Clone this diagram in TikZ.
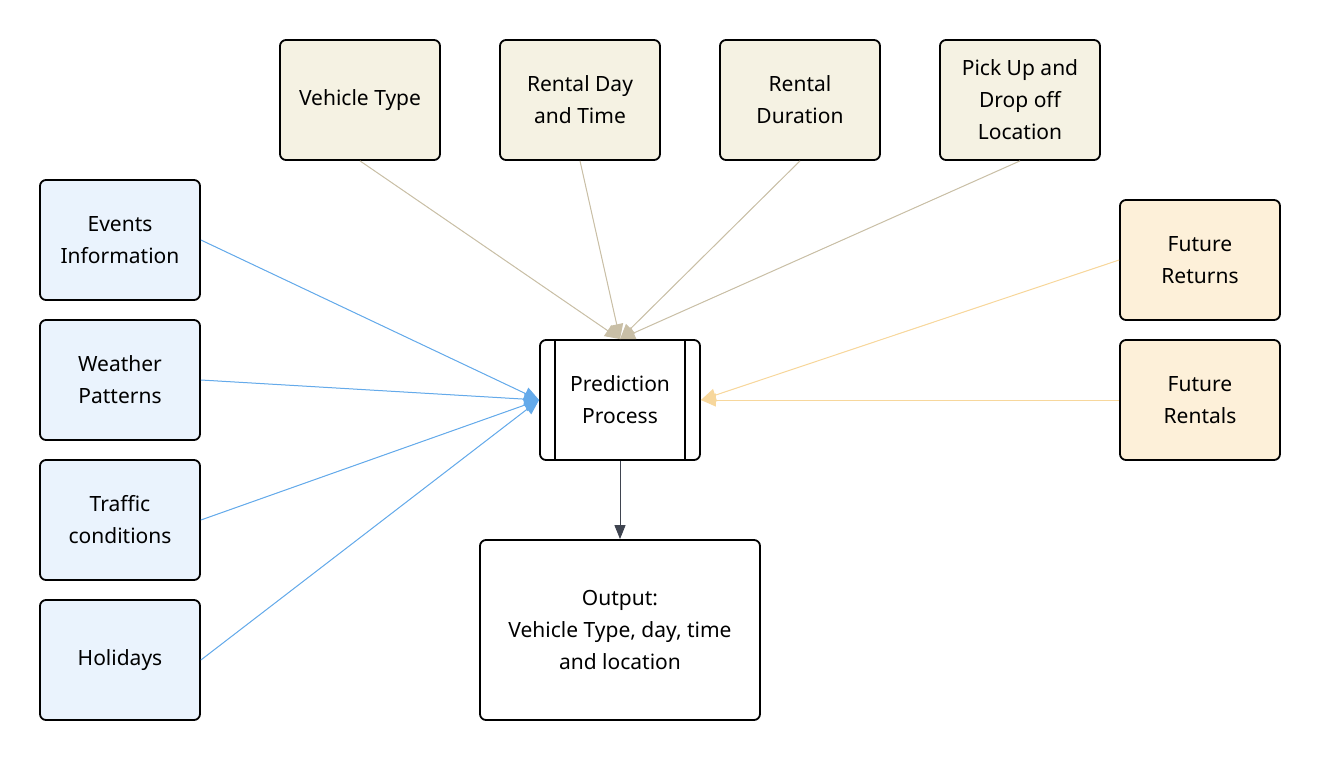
\documentclass[tikz,border=0pt]{standalone}
\usepackage{fontspec}
\setmainfont{Noto Sans}
\usetikzlibrary{arrows.meta}
\definecolor{topfill}{HTML}{F5F2E3}
\definecolor{leftfill}{HTML}{EAF3FD}
\definecolor{rightfill}{HTML}{FDF0D9}
\definecolor{tanline}{HTML}{C9BFA6}
\definecolor{blueline}{HTML}{64AAEA}
\definecolor{orangeline}{HTML}{F7D79C}
\definecolor{darkline}{HTML}{3F4450}
\tikzset{
  box/.style={draw=black, rounded corners=6pt, line width=1.8pt, minimum width=160pt, minimum height=120pt, align=center, inner sep=0pt, font=\fontsize{21}{32}\selectfont},
  topbox/.style={box, fill=topfill},
  leftbox/.style={box, fill=leftfill},
  rightbox/.style={box, fill=rightfill},
  conn/.style={line width=1pt, -{Triangle[length=15pt,width=13pt]}},
}
\begin{document}
\begin{tikzpicture}[x=1pt,y=-1pt]
\useasboundingbox (0,0) rectangle (1320,760);
\node[topbox] (vt) at (360,100) {\raisebox{-3pt}{Vehicle Type}};
\node[topbox] (rd) at (580,100) {Rental Day\\and Time};
\node[topbox] (rdur) at (800,100) {Rental\\Duration};
\node[topbox] (pu) at (1020,100) {Pick Up and\\Drop off\\Location};
\node[leftbox] (ev) at (120,240) {Events\\Information};
\node[leftbox] (wp) at (120,380) {Weather\\Patterns};
\node[leftbox] (tc) at (120,520) {Traffic\\conditions};
\node[leftbox] (ho) at (120,660) {\raisebox{-3pt}{Holidays}};
\node[rightbox] (fr) at (1200,260) {Future\\Returns};
\node[rightbox] (fre) at (1200,400) {Future\\Rentals};
\node[box, fill=white] (pp) at (620,400) {Prediction\\Process};
\draw[line width=1.8pt] ([xshift=16pt]pp.north west) -- ([xshift=16pt]pp.south west);
\draw[line width=1.8pt] ([xshift=-16pt]pp.north east) -- ([xshift=-16pt]pp.south east);
\node[box, fill=white, minimum width=280pt, minimum height=180pt] (out) at (620,630) {Output:\\Vehicle Type, day, time\\and location};
\foreach \n in {vt,rd,rdur,pu} \draw[conn, draw=tanline, fill=tanline] (\n.south) -- (pp.north);
\foreach \n in {ev,wp,tc,ho} \draw[conn, draw=blueline, fill=blueline] (\n.east) -- (pp.west);
\foreach \n in {fr,fre} \draw[conn, draw=orangeline, fill=orangeline] (\n.west) -- (pp.east);
\draw[line width=1pt, draw=darkline, -{Triangle[length=14pt,width=11pt]}] (pp.south) -- (out.north);
\end{tikzpicture}
\end{document}
